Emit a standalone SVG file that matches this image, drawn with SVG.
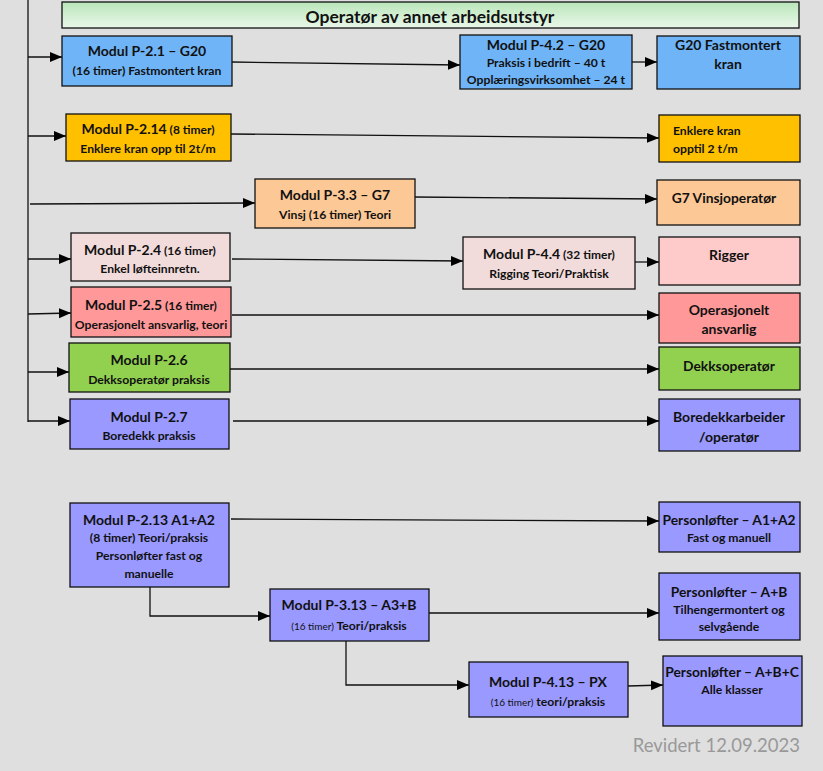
<svg xmlns="http://www.w3.org/2000/svg" width="823" height="771" viewBox="0 0 823 771">
<defs>
<linearGradient id="hdr" x1="0" y1="0" x2="0" y2="1">
<stop offset="0" stop-color="#b9e6b9"/>
<stop offset="1" stop-color="#eaf7ea"/>
</linearGradient>
<marker id="ah" markerUnits="userSpaceOnUse" markerWidth="12" markerHeight="12" viewBox="0 0 12 12" refX="12" refY="6" orient="auto">
<path d="M0,1 L12,6 L0,11 Z" fill="#000"/>
</marker>
<style>
.bx{stroke:#111;stroke-width:1.3}
.t{font-family:Lato,"Liberation Sans",sans-serif;font-weight:bold;fill:#111;text-anchor:middle}
.l{text-anchor:start}
.h{font-size:14px}
.r{font-size:13.8px}
.s{font-size:12.2px}
.xs{font-size:10px;font-weight:normal}
.c{fill:none;stroke:#111;stroke-width:1.3}
.a{marker-end:url(#ah)}
</style>
</defs>
<rect width="823" height="771" fill="#dfdfdf"/>

<g id="connectors">
<line class="c" x1="28" y1="0" x2="28" y2="422"/>
<line class="c a" x1="28" y1="57" x2="62" y2="57"/>
<line class="c a" x1="232" y1="62" x2="460" y2="65"/>
<line class="c a" x1="632" y1="62" x2="657" y2="62"/>
<line class="c a" x1="28" y1="136" x2="66" y2="136"/>
<line class="c a" x1="231" y1="134" x2="659" y2="138"/>
<line class="c a" x1="30" y1="204" x2="255" y2="203"/>
<line class="c a" x1="415" y1="197" x2="657" y2="199"/>
<line class="c a" x1="28" y1="259" x2="71" y2="259"/>
<line class="c a" x1="232" y1="259" x2="463" y2="261"/>
<line class="c a" x1="635" y1="262" x2="659" y2="262"/>
<line class="c a" x1="28" y1="314" x2="71" y2="313"/>
<line class="c a" x1="232" y1="315" x2="659" y2="315"/>
<line class="c a" x1="28" y1="372" x2="69" y2="372"/>
<line class="c a" x1="230" y1="369" x2="659" y2="369"/>
<line class="c a" x1="28" y1="421" x2="70" y2="421"/>
<line class="c a" x1="233" y1="421" x2="659" y2="421"/>
<line class="c a" x1="231" y1="519" x2="659" y2="521"/>
<path class="c a" d="M150,587 V616 H270"/>
<line class="c a" x1="429" y1="613" x2="659" y2="613"/>
<path class="c a" d="M346,641 V685 H469"/>
<line class="c a" x1="628" y1="686" x2="663" y2="685"/>
</g>

<g id="header">
<rect class="bx" x="62" y="2" width="737" height="26" fill="url(#hdr)"/>
<text class="t" x="430" y="22.5" font-size="17.5">Operatør av annet arbeidsutstyr</text>
</g>

<g id="p21">
<rect class="bx" x="62" y="36" width="170" height="50" fill="#6fb4f7"/>
<text class="t h" x="147" y="56">Modul P-2.1 – G20</text>
<text class="t s" x="147" y="75">(16 timer) Fastmontert kran</text>
</g>
<g id="p42">
<rect class="bx" x="460" y="35" width="172" height="54" fill="#6fb4f7"/>
<text class="t h" x="546" y="50">Modul P-4.2 – G20</text>
<text class="t s" x="546" y="67">Praksis i bedrift – 40 t</text>
<text class="t s" x="546" y="84">Opplæringsvirksomhet – 24 t</text>
</g>
<g id="g20">
<rect class="bx" x="657" y="36" width="143" height="53" fill="#6fb4f7"/>
<text class="t h" x="728" y="50">G20 Fastmontert</text>
<text class="t h" x="728" y="69">kran</text>
</g>

<g id="p214">
<rect class="bx" x="66" y="114" width="165" height="47" fill="#ffc000"/>
<text class="t" x="148" y="134"><tspan font-size="14">Modul P-2.14</tspan><tspan font-size="12"> (8 timer)</tspan></text>
<text class="t s" x="148" y="153">Enklere kran opp til 2t/m</text>
</g>
<g id="enklere">
<rect class="bx" x="659" y="115" width="141" height="47" fill="#ffc000"/>
<text class="t s l" x="673" y="135">Enklere kran</text>
<text class="t s l" x="673" y="153">opptil 2 t/m</text>
</g>

<g id="p33">
<rect class="bx" x="255" y="179" width="160" height="49" fill="#fcc896"/>
<text class="t h" x="335" y="200">Modul P-3.3 – G7</text>
<text class="t s" x="335" y="219">Vinsj (16 timer) Teori</text>
</g>
<g id="g7">
<rect class="bx" x="657" y="180" width="143" height="45" fill="#fcc896"/>
<text class="t r" x="724" y="203">G7 Vinsjoperatør</text>
</g>

<g id="p24">
<rect class="bx" x="71" y="233" width="159" height="48" fill="#f2dcdb"/>
<text class="t" x="150" y="255"><tspan font-size="14">Modul P-2.4</tspan><tspan font-size="12"> (16 timer)</tspan></text>
<text class="t s" x="150" y="273">Enkel løfteinnretn.</text>
</g>
<g id="p44">
<rect class="bx" x="463" y="237" width="172" height="52" fill="#f2dcdb"/>
<text class="t" x="549" y="259"><tspan font-size="14">Modul P-4.4</tspan><tspan font-size="12"> (32 timer)</tspan></text>
<text class="t s" x="549" y="278">Rigging Teori/Praktisk</text>
</g>
<g id="rigger">
<rect class="bx" x="659" y="237" width="141" height="48" fill="#ffcaca"/>
<text class="t h" x="729" y="260">Rigger</text>
</g>

<g id="p25">
<rect class="bx" x="71" y="287" width="160" height="50" fill="#ff9999"/>
<text class="t" x="151" y="310"><tspan font-size="14">Modul P-2.5</tspan><tspan font-size="12"> (16 timer)</tspan></text>
<text class="t s" x="151" y="329">Operasjonelt ansvarlig, teori</text>
</g>
<g id="opansv">
<rect class="bx" x="659" y="293" width="141" height="50" fill="#ff9999"/>
<text class="t h" x="729" y="315">Operasjonelt</text>
<text class="t h" x="729" y="334">ansvarlig</text>
</g>

<g id="p26">
<rect class="bx" x="69" y="343" width="161" height="49" fill="#92d050"/>
<text class="t h" x="149" y="365">Modul P-2.6</text>
<text class="t s" x="149" y="384">Dekksoperatør praksis</text>
</g>
<g id="dekk">
<rect class="bx" x="659" y="347" width="141" height="43" fill="#92d050"/>
<text class="t r" x="729" y="371">Dekksoperatør</text>
</g>

<g id="p27">
<rect class="bx" x="70" y="399" width="159" height="50" fill="#9999ff"/>
<text class="t h" x="149" y="422">Modul P-2.7</text>
<text class="t s" x="149" y="440">Boredekk praksis</text>
</g>
<g id="bore">
<rect class="bx" x="659" y="399" width="141" height="52" fill="#9999ff"/>
<text class="t h" x="729" y="422">Boredekkarbeider</text>
<text class="t h" x="729" y="442">/operatør</text>
</g>

<g id="p213">
<rect class="bx" x="70" y="503" width="159" height="84" fill="#9999ff"/>
<text class="t h" x="149" y="525">Modul P-2.13 A1+A2</text>
<text class="t s" x="149" y="542">(8 timer) Teori/praksis</text>
<text class="t s" x="149" y="560">Personløfter fast og</text>
<text class="t s" x="149" y="578">manuelle</text>
</g>
<g id="pa1a2">
<rect class="bx" x="659" y="502" width="141" height="50" fill="#9999ff"/>
<text class="t r" x="729" y="525">Personløfter – A1+A2</text>
<text class="t s" x="729" y="542">Fast og manuell</text>
</g>

<g id="p313">
<rect class="bx" x="270" y="589" width="159" height="52" fill="#9999ff"/>
<text class="t h" x="349" y="610">Modul P-3.13 – A3+B</text>
<text class="t" x="349" y="630"><tspan class="xs">(16 timer)</tspan><tspan font-size="12.2"> Teori/praksis</tspan></text>
</g>
<g id="pab">
<rect class="bx" x="659" y="573" width="141" height="67" fill="#9999ff"/>
<text class="t r" x="729" y="597">Personløfter – A+B</text>
<text class="t s" x="729" y="614">Tilhengermontert og</text>
<text class="t s" x="729" y="631">selvgående</text>
</g>

<g id="p413">
<rect class="bx" x="469" y="662" width="159" height="55" fill="#9999ff"/>
<text class="t h" x="548" y="687">Modul P-4.13 – PX</text>
<text class="t" x="548" y="706"><tspan class="xs">(16 timer)</tspan><tspan font-size="12.2"> teori/praksis</tspan></text>
</g>
<g id="pabc">
<rect class="bx" x="663" y="656" width="139" height="70" fill="#9999ff"/>
<text class="t r" x="732" y="677">Personløfter – A+B+C</text>
<text class="t s" x="732" y="694">Alle klasser</text>
</g>

<text x="800" y="752" font-family="Lato,'Liberation Sans',sans-serif" font-size="18.5" fill="#999" text-anchor="end">Revidert 12.09.2023</text>
</svg>
